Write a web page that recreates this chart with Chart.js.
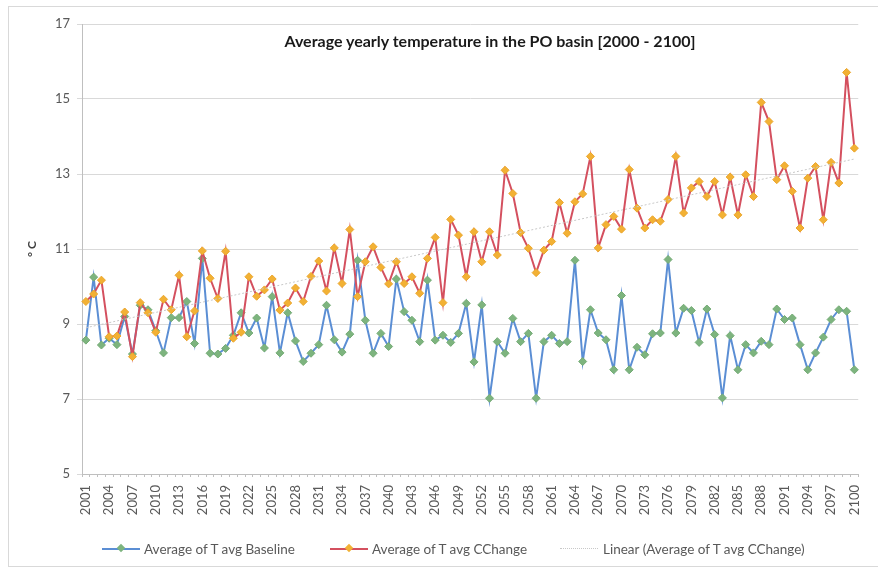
<!DOCTYPE html>
<html>
<head>
<meta charset="utf-8">
<script src="https://cdn.jsdelivr.net/npm/chart.js@4/dist/chart.umd.min.js"></script>
<style>
  html, body { margin: 0; padding: 0; background: #fff; }
  #wrap { position: relative; width: 878px; height: 570px; overflow: hidden; }
  #frame { position: absolute; left: 8px; top: 6px; width: 900px; height: 559px; border: 1px solid #d9d9d9; }
  #chart { position: absolute; left: 0; top: 0; }
  #title { position: absolute; left: 0; width: 980px; top: 31px; text-align: center;
           font: bold 16px Lato, "Open Sans", sans-serif; color: #1a1a1a; }
  #legend { position: absolute; top: 539px; left: 0; width: 878px; height: 20px;
            font: 13.5px Lato, "Open Sans", sans-serif; color: #595959; }
  .item { position: absolute; top: 0; white-space: nowrap; line-height: 20px; }
  .sw { position: absolute; top: 9px; height: 2px; }
  .mk { position: absolute; top: 6px; width: 6px; height: 6px; transform: rotate(45deg); }
</style>
</head>
<body>
<div id="wrap">
  <div id="frame"></div>
  <canvas id="chart" width="878" height="570"></canvas>
  <div id="title">Average yearly temperature in the PO basin [2000 - 2100]</div>
  <div id="legend">
    <div class="sw" style="left:102px;width:38px;background:#5b8ed4"></div>
    <div class="mk" style="left:118px;background:#7db47e"></div>
    <div class="item" style="left:144px">Average of T avg Baseline</div>
    <div class="sw" style="left:330px;width:38px;background:#d4505f"></div>
    <div class="mk" style="left:346px;background:#f2b134"></div>
    <div class="item" style="left:372px">Average of T avg CChange</div>
    <div class="sw" style="left:560px;width:38px;height:1px;border-top:1px dotted #c8c8c8;background:none"></div>
    <div class="item" style="left:603px">Linear (Average of T avg CChange)</div>
  </div>
</div>
<script>
const firstYear = 2001;
const lastYear = 2100;

const baseline = [
  8.57, 10.25, 8.44, 8.62, 8.45, 9.2, 8.2, 9.5, 9.38, 8.82,
  8.23, 9.17, 9.17, 9.6, 8.48, 10.75, 8.22, 8.2, 8.35, 8.7,
  9.3, 8.76, 9.16, 8.36, 9.73, 8.23, 9.3, 8.55, 8.0, 8.22,
  8.45, 9.5, 8.58, 8.25, 8.73, 10.7, 9.1, 8.22, 8.75, 8.4,
  10.2, 9.33, 9.1, 8.53, 10.17, 8.57, 8.7, 8.51, 8.75, 9.55,
  7.99, 9.51, 7.02, 8.53, 8.22, 9.15, 8.53, 8.75, 7.02, 8.53,
  8.7, 8.48, 8.53, 10.7, 8.0, 9.38, 8.76, 8.58, 7.78, 9.76,
  7.78, 8.38, 8.18, 8.74, 8.76, 10.72, 8.76, 9.42, 9.36, 8.51,
  9.4, 8.72, 7.03, 8.69, 7.78, 8.45, 8.23, 8.54, 8.45, 9.4,
  9.12, 9.16, 8.45, 7.78, 8.23, 8.65, 9.12, 9.38, 9.34, 7.78
];

const cchange = [
  9.6, 9.8, 10.17, 8.66, 8.68, 9.32, 8.13, 9.57, 9.3, 8.78,
  9.66, 9.38, 10.3, 8.66, 9.35, 10.95, 10.22, 9.68, 10.94, 8.62,
  8.78, 10.26, 9.74, 9.91, 10.2, 9.37, 9.56, 9.96, 9.6, 10.27,
  10.68, 9.88, 11.03, 10.08, 11.52, 9.73, 10.66, 11.06, 10.51, 10.07,
  10.66, 10.08, 10.26, 9.82, 10.75, 11.31, 9.57, 11.79, 11.37, 10.26,
  11.46, 10.66, 11.46, 10.84, 13.1, 12.48, 11.44, 11.02, 10.37, 10.97,
  11.2, 12.24, 11.42, 12.26, 12.47, 13.47, 11.03, 11.65, 11.87, 11.53,
  13.12, 12.09, 11.56, 11.78, 11.74, 12.32, 13.47, 11.96, 12.63, 12.8,
  12.4, 12.8, 11.91, 12.92, 11.91, 12.98, 12.4, 14.91, 14.4, 12.85,
  13.22, 12.54, 11.56, 12.89, 13.2, 11.78, 13.31, 12.76, 15.71, 13.69
];

// trend line ends (first and last year)
const trendEnds = [8.9, 13.4];

const yTicks = [5, 7, 9, 11, 13, 15, 17];

const years = [];
for (let y = firstYear; y <= lastYear; y++) years.push(String(y));

const trend = years.map((_, i) => i === 0 ? trendEnds[0] : (i === years.length - 1 ? trendEnds[1] : null));

const fontFamily = 'Lato, "Open Sans", sans-serif';

const ctx = document.getElementById('chart').getContext('2d');
new Chart(ctx, {
  type: 'line',
  data: {
    labels: years,
    datasets: [
      {
        label: 'Linear (Average of T avg CChange)',
        data: trend,
        spanGaps: true,
        borderColor: '#c8c8c8',
        borderWidth: 1,
        borderDash: [2, 2],
        pointRadius: 0,
        order: 0
      },
      {
        label: 'Average of T avg CChange',
        data: cchange,
        borderColor: '#d4505f',
        borderWidth: 2,
        pointStyle: 'rectRot',
        pointRadius: 4,
        pointBackgroundColor: '#f2b134',
        pointBorderColor: '#eaa52c',
        pointBorderWidth: 1,
        order: 1
      },
      {
        label: 'Average of T avg Baseline',
        data: baseline,
        borderColor: '#5b8ed4',
        borderWidth: 2,
        pointStyle: 'rectRot',
        pointRadius: 4,
        pointBackgroundColor: '#7db47e',
        pointBorderColor: '#74ab75',
        pointBorderWidth: 1,
        order: 2
      }
    ]
  },
  options: {
    responsive: false,
    animation: false,
    layout: { padding: { top: 24, right: 2, left: 0, bottom: 0 } },
    plugins: {
      legend: { display: false },
      title: { display: false },
      tooltip: { enabled: false }
    },
    elements: { line: { tension: 0 } },
    scales: {
      x: {
        offset: true,
        grid: { display: true, drawOnChartArea: false, offset: true, tickLength: 3, color: '#bfbfbf' },
        border: { color: '#bfbfbf' },
        ticks: {
          autoSkip: false,
          maxRotation: 90,
          minRotation: 90,
          padding: 8,
          color: '#595959',
          font: { size: 13, family: fontFamily },
          callback: function (value, index) {
            return index % 3 === 0 ? this.getLabelForValue(value) : '';
          }
        },
        afterFit: (scale) => { scale.height = 96; }
      },
      y: {
        min: yTicks[0],
        max: yTicks[yTicks.length - 1],
        afterBuildTicks: (scale) => { scale.ticks = yTicks.map(v => ({ value: v })); },
        grid: { color: '#d9d9d9', tickLength: 5 },
        border: { color: '#bfbfbf' },
        ticks: {
          padding: 7,
          color: '#595959',
          font: { size: 13, family: fontFamily }
        },
        title: {
          display: true,
          text: '° C',
          color: '#404040',
          font: { size: 12, family: fontFamily, weight: 'bold' },
          padding: { top: 25, bottom: 0 }
        },
        afterFit: (scale) => { scale.width = 82; }
      }
    }
  }
});
</script>
</body>
</html>
